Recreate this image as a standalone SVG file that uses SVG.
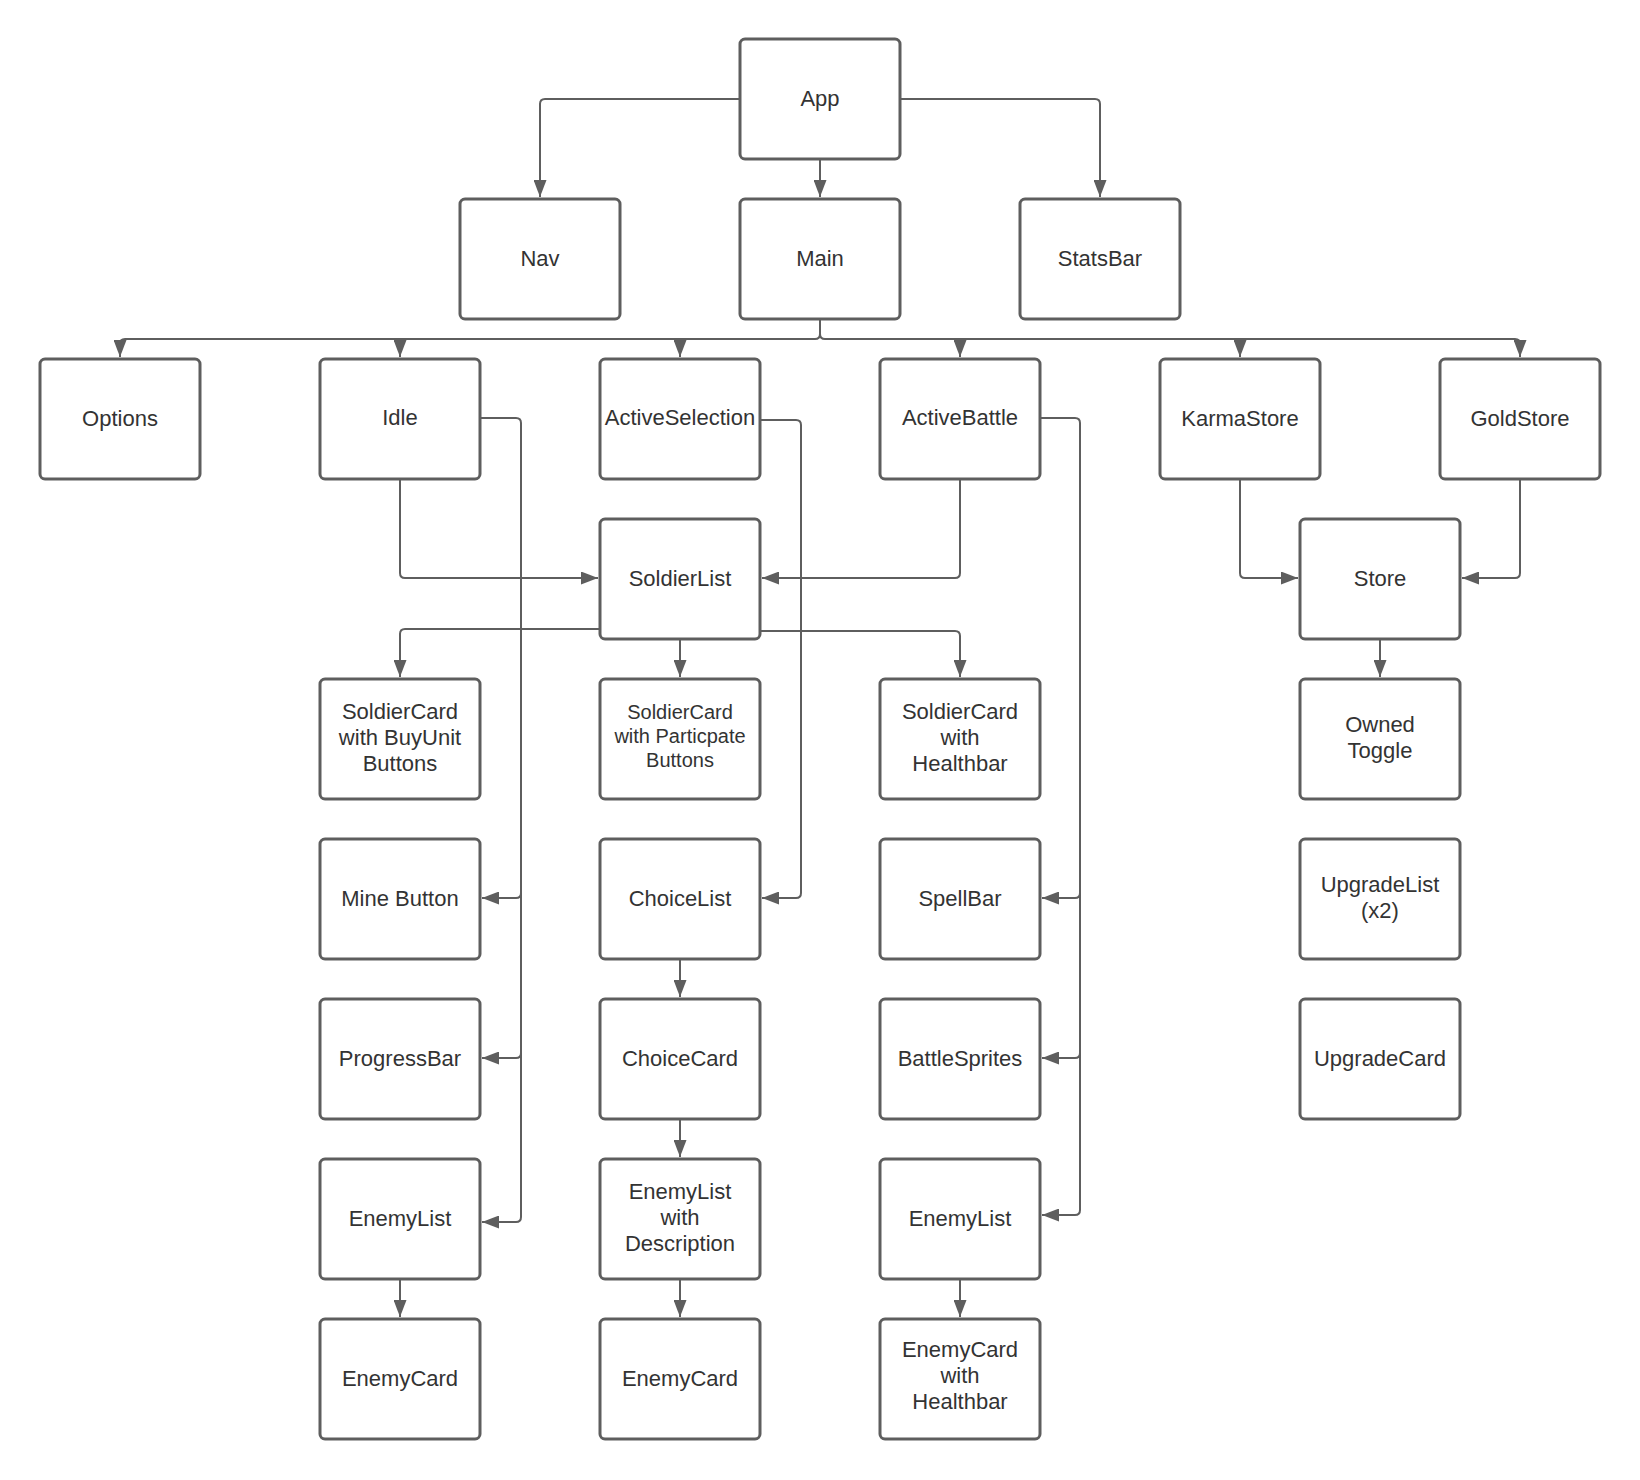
<svg xmlns="http://www.w3.org/2000/svg" width="1640" height="1480" viewBox="0 0 1640 1480">
<style>
.box{fill:#ffffff;stroke:#5e5e5e;stroke-width:3}
.lbl{font-family:"Liberation Sans",Arial,sans-serif;font-size:22px;fill:#333333;text-anchor:middle}
.sm{font-size:20px}
.c{fill:none;stroke:#5e5e5e;stroke-width:2}
.a{marker-end:url(#ah)}
</style>
<defs>
<marker id="ah" viewBox="0 0 17 13" refX="17" refY="6.5" markerWidth="17" markerHeight="13" markerUnits="userSpaceOnUse" orient="auto">
<path d="M0,0 L17,6.5 L0,13 Z" fill="#5e5e5e"/>
</marker>
</defs>
<rect width="1640" height="1480" fill="#ffffff"/>
<g id="connectors">
<path class="c a" d="M740,99 H545 Q540,99 540,104 V197"/>
<path class="c a" d="M820,159 V197"/>
<path class="c a" d="M900,99 H1095 Q1100,99 1100,104 V197"/>
<path class="c a" d="M820,319 V334 Q820,339 815,339 H125 Q120,339 120,344 V357"/>
<path class="c a" d="M820,334 Q820,339 825,339 H1515 Q1520,339 1520,344 V357"/>
<path class="c a" d="M400,339 V357"/>
<path class="c a" d="M680,339 V357"/>
<path class="c a" d="M960,339 V357"/>
<path class="c a" d="M1240,339 V357"/>
<path class="c a" d="M400,479 V573 Q400,578 405,578 H598"/>
<path class="c a" d="M960,479 V573 Q960,578 955,578 H762"/>
<path class="c a" d="M1240,479 V573 Q1240,578 1245,578 H1298"/>
<path class="c a" d="M1520,479 V573 Q1520,578 1515,578 H1462"/>
<path class="c a" d="M600,629 H405 Q400,629 400,634 V677"/>
<path class="c a" d="M680,639 V677"/>
<path class="c a" d="M760,631 H955 Q960,631 960,636 V677"/>
<path class="c a" d="M1380,639 V677"/>
<path class="c a" d="M480,418 H516 Q521,418 521,423 V1217 Q521,1222 516,1222 H482"/>
<path class="c a" d="M521,893 Q521,898 516,898 H482"/>
<path class="c a" d="M521,1053 Q521,1058 516,1058 H482"/>
<path class="c a" d="M760,420 H796 Q801,420 801,425 V893 Q801,898 796,898 H762"/>
<path class="c a" d="M1040,418 H1075 Q1080,418 1080,423 V1210 Q1080,1215 1075,1215 H1042"/>
<path class="c a" d="M1080,893 Q1080,898 1075,898 H1042"/>
<path class="c a" d="M1080,1053 Q1080,1058 1075,1058 H1042"/>
<path class="c a" d="M680,959 V997"/>
<path class="c a" d="M680,1119 V1157"/>
<path class="c a" d="M680,1279 V1317"/>
<path class="c a" d="M400,1279 V1317"/>
<path class="c a" d="M960,1279 V1317"/>
</g>
<g id="app"><rect class="box" x="740" y="39" width="160" height="120" rx="5"/><text class="lbl" x="820" y="106">App</text></g>
<g id="nav"><rect class="box" x="460" y="199" width="160" height="120" rx="5"/><text class="lbl" x="540" y="266">Nav</text></g>
<g id="main"><rect class="box" x="740" y="199" width="160" height="120" rx="5"/><text class="lbl" x="820" y="266">Main</text></g>
<g id="statsbar"><rect class="box" x="1020" y="199" width="160" height="120" rx="5"/><text class="lbl" x="1100" y="266">StatsBar</text></g>
<g id="options"><rect class="box" x="40" y="359" width="160" height="120" rx="5"/><text class="lbl" x="120" y="426">Options</text></g>
<g id="idle"><rect class="box" x="320" y="359" width="160" height="120" rx="5"/><text class="lbl" x="400" y="425">Idle</text></g>
<g id="activeselection"><rect class="box" x="600" y="359" width="160" height="120" rx="5"/><text class="lbl" x="680" y="425">ActiveSelection</text></g>
<g id="activebattle"><rect class="box" x="880" y="359" width="160" height="120" rx="5"/><text class="lbl" x="960" y="425">ActiveBattle</text></g>
<g id="karmastore"><rect class="box" x="1160" y="359" width="160" height="120" rx="5"/><text class="lbl" x="1240" y="426">KarmaStore</text></g>
<g id="goldstore"><rect class="box" x="1440" y="359" width="160" height="120" rx="5"/><text class="lbl" x="1520" y="426">GoldStore</text></g>
<g id="soldierlist"><rect class="box" x="600" y="519" width="160" height="120" rx="5"/><text class="lbl" x="680" y="586">SoldierList</text></g>
<g id="store"><rect class="box" x="1300" y="519" width="160" height="120" rx="5"/><text class="lbl" x="1380" y="586">Store</text></g>
<g id="soldiercard-buyunit"><rect class="box" x="320" y="679" width="160" height="120" rx="5"/><text class="lbl" x="400" y="719">SoldierCard</text><text class="lbl" x="400" y="745">with BuyUnit</text><text class="lbl" x="400" y="771">Buttons</text></g>
<g id="soldiercard-participate"><rect class="box" x="600" y="679" width="160" height="120" rx="5"/><text class="lbl sm" x="680" y="719">SoldierCard</text><text class="lbl sm" x="680" y="743">with Particpate</text><text class="lbl sm" x="680" y="767">Buttons</text></g>
<g id="soldiercard-healthbar"><rect class="box" x="880" y="679" width="160" height="120" rx="5"/><text class="lbl" x="960" y="719">SoldierCard</text><text class="lbl" x="960" y="745">with</text><text class="lbl" x="960" y="771">Healthbar</text></g>
<g id="ownedtoggle"><rect class="box" x="1300" y="679" width="160" height="120" rx="5"/><text class="lbl" x="1380" y="732">Owned</text><text class="lbl" x="1380" y="758">Toggle</text></g>
<g id="minebutton"><rect class="box" x="320" y="839" width="160" height="120" rx="5"/><text class="lbl" x="400" y="906">Mine Button</text></g>
<g id="choicelist"><rect class="box" x="600" y="839" width="160" height="120" rx="5"/><text class="lbl" x="680" y="906">ChoiceList</text></g>
<g id="spellbar"><rect class="box" x="880" y="839" width="160" height="120" rx="5"/><text class="lbl" x="960" y="906">SpellBar</text></g>
<g id="upgradelist"><rect class="box" x="1300" y="839" width="160" height="120" rx="5"/><text class="lbl" x="1380" y="892">UpgradeList</text><text class="lbl" x="1380" y="918">(x2)</text></g>
<g id="progressbar"><rect class="box" x="320" y="999" width="160" height="120" rx="5"/><text class="lbl" x="400" y="1066">ProgressBar</text></g>
<g id="choicecard"><rect class="box" x="600" y="999" width="160" height="120" rx="5"/><text class="lbl" x="680" y="1066">ChoiceCard</text></g>
<g id="battlesprites"><rect class="box" x="880" y="999" width="160" height="120" rx="5"/><text class="lbl" x="960" y="1066">BattleSprites</text></g>
<g id="upgradecard"><rect class="box" x="1300" y="999" width="160" height="120" rx="5"/><text class="lbl" x="1380" y="1066">UpgradeCard</text></g>
<g id="enemylist-idle"><rect class="box" x="320" y="1159" width="160" height="120" rx="5"/><text class="lbl" x="400" y="1226">EnemyList</text></g>
<g id="enemylist-description"><rect class="box" x="600" y="1159" width="160" height="120" rx="5"/><text class="lbl" x="680" y="1199">EnemyList</text><text class="lbl" x="680" y="1225">with</text><text class="lbl" x="680" y="1251">Description</text></g>
<g id="enemylist-battle"><rect class="box" x="880" y="1159" width="160" height="120" rx="5"/><text class="lbl" x="960" y="1226">EnemyList</text></g>
<g id="enemycard-idle"><rect class="box" x="320" y="1319" width="160" height="120" rx="5"/><text class="lbl" x="400" y="1386">EnemyCard</text></g>
<g id="enemycard-selection"><rect class="box" x="600" y="1319" width="160" height="120" rx="5"/><text class="lbl" x="680" y="1386">EnemyCard</text></g>
<g id="enemycard-healthbar"><rect class="box" x="880" y="1319" width="160" height="120" rx="5"/><text class="lbl" x="960" y="1357">EnemyCard</text><text class="lbl" x="960" y="1383">with</text><text class="lbl" x="960" y="1409">Healthbar</text></g>
</svg>
